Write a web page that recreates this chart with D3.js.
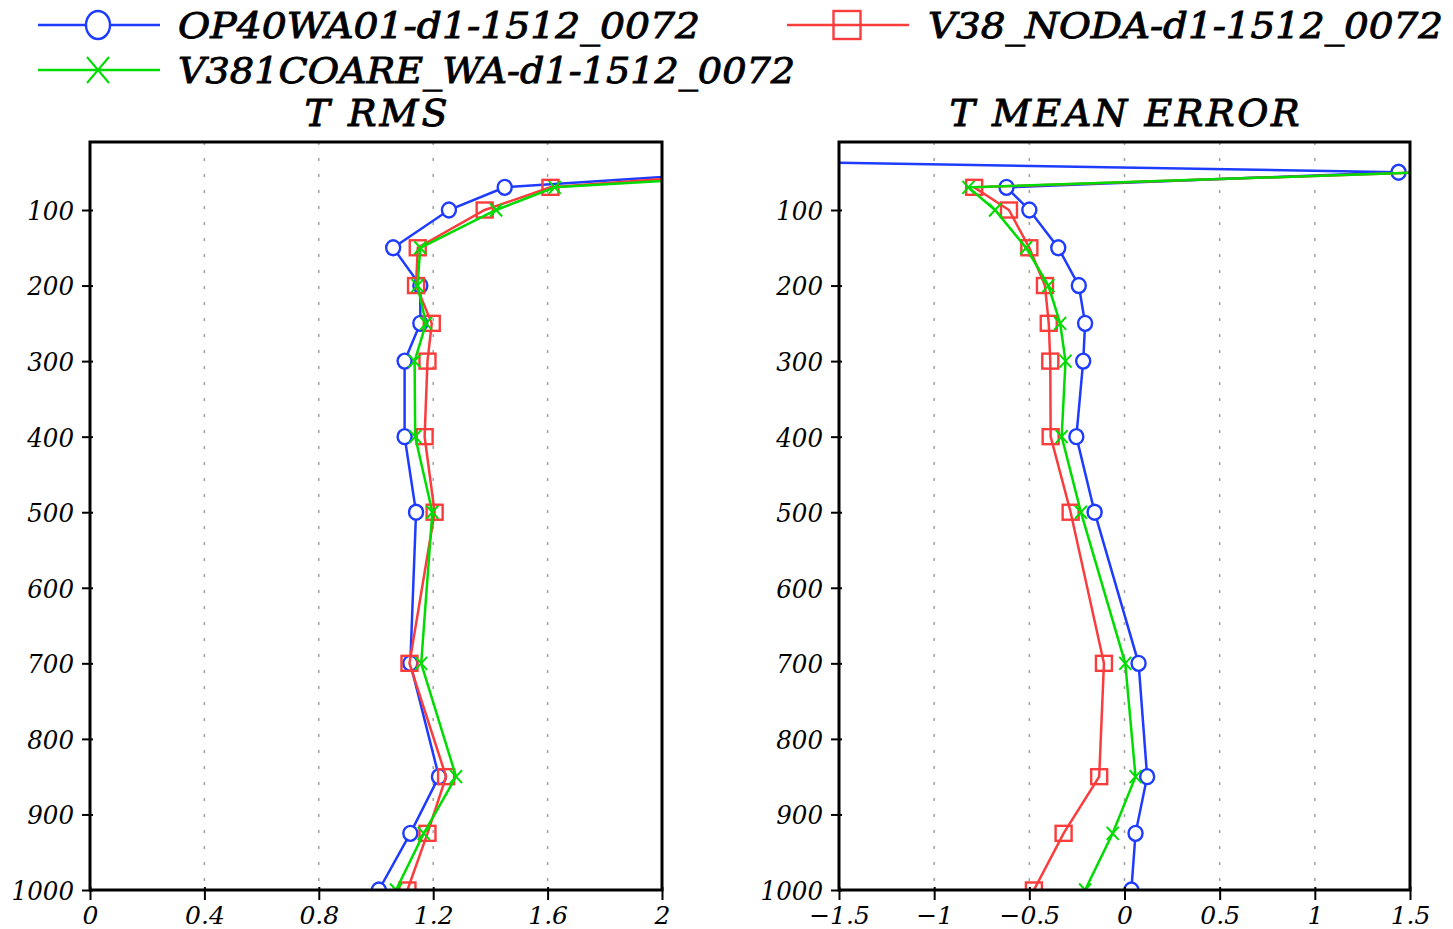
<!DOCTYPE html>
<html>
<head>
<meta charset="utf-8">
<script src="https://cdn.jsdelivr.net/npm/d3@7"></script>
<style>
  html, body { margin: 0; padding: 0; background: #fff; }
  svg { display: block; }
  text { font-family: "DejaVu Serif", serif; font-style: italic; fill: #000; }
</style>
</head>
<body>
<div id="art"></div>
<script>
// pressure levels (hPa); 30 hPa only exists for the OP40 run
const levels = [30, 50, 70, 100, 150, 200, 250, 300, 400, 500, 700, 850, 925, 1000];

const rmsOP40  = [3.4, 2.25, 1.45, 1.255, 1.06, 1.155, 1.155, 1.10, 1.10, 1.14, 1.12, 1.22, 1.12, 1.01];
const rmsNODA  = [null, 2.31, 1.61, 1.38, 1.146, 1.14, 1.195, 1.18, 1.17, 1.205, 1.117, 1.245, 1.18, 1.11];
const rmsCOARE = [null, 2.51, 1.625, 1.42, 1.155, 1.145, 1.175, 1.135, 1.137, 1.197, 1.158, 1.28, 1.167, 1.07];

const meOP40  = [-3.3, 1.44, -0.62, -0.50, -0.348, -0.24, -0.207, -0.217, -0.253, -0.157, 0.074, 0.119, 0.058, 0.036];
const meNODA  = [null, 1.58, -0.79, -0.607, -0.50, -0.418, -0.398, -0.39, -0.388, -0.283, -0.108, -0.133, -0.32, -0.476];
const meCOARE = [null, 1.60, -0.82, -0.68, -0.517, -0.40, -0.338, -0.31, -0.33, -0.229, 0.004, 0.058, -0.062, -0.207];

const seriesNames = ["OP40WA01-d1-1512_0072", "V38_NODA-d1-1512_0072", "V381COARE_WA-d1-1512_0072"];
const seriesColours = ["#1e3cff", "#fa3c3c", "#00dc00"];
const seriesMarks = ["circle", "square", "cross"];

const yTicks = [100, 200, 300, 400, 500, 600, 700, 800, 900, 1000];
const rmsTicks = [0, 0.4, 0.8, 1.2, 1.6, 2];
const meTicks = [-1.5, -1, -0.5, 0, 0.5, 1, 1.5];

const config = {
  width: 1453,
  height: 929,
  top: 142,
  bottom: 890
};

function fmt(v) {
  return String(v).replace("-", "\u2212");
}

function drawMark(g, type, x, y, colour, s) {
  if (type === "circle") {
    g.append("ellipse").attr("cx", x).attr("cy", y).attr("rx", s.r).attr("ry", s.ry || s.r)
      .attr("fill", "#fff").attr("stroke", colour).attr("stroke-width", 2.4);
  } else if (type === "square") {
    g.append("rect").attr("x", x - s.sq / 2).attr("y", y - (s.sqh || s.sq) / 2)
      .attr("width", s.sq).attr("height", s.sqh || s.sq)
      .attr("fill", "none").attr("stroke", colour).attr("stroke-width", 2.4);
  } else {
    const a = s.cx, b = s.cy || s.cx;
    g.append("path").attr("d", `M${x - a},${y - b}L${x + a},${y + b}M${x - a},${y + b}L${x + a},${y - b}`)
      .attr("stroke", colour).attr("stroke-width", 2).attr("fill", "none");
  }
}

function panel(svg, id, x0, x1, domain, ticks, title, titleLen, values) {
  const x = d3.scaleLinear().domain(domain).range([x0, x1]);
  const y = d3.scaleLinear().domain([10, 1000]).range([config.top, config.bottom]);

  svg.append("clipPath").attr("id", id)
    .append("rect").attr("x", x0).attr("y", config.top)
    .attr("width", x1 - x0).attr("height", config.bottom - config.top);

  // dotted grid
  svg.append("g").selectAll("line")
    .data(ticks.slice(1, -1))
    .enter().append("line")
    .attr("x1", d => x(d)).attr("x2", d => x(d))
    .attr("y1", config.top).attr("y2", config.bottom)
    .attr("stroke", "#a0a0a0").attr("stroke-width", 1.5)
    .attr("stroke-dasharray", "3,13");

  const plot = svg.append("g").attr("clip-path", `url(#${id})`);

  values.forEach((vals, k) => {
    const pts = levels.map((p, i) => ({ p: p, v: vals[i] })).filter(d => d.v !== null);
    const line = d3.line().x(d => x(d.v)).y(d => y(d.p));
    plot.append("path").datum(pts)
      .attr("d", line)
      .attr("fill", "none")
      .attr("stroke", seriesColours[k])
      .attr("stroke-width", 2.5);
    const mg = plot.append("g");
    pts.forEach(d => drawMark(mg, seriesMarks[k], x(d.v), y(d.p), seriesColours[k], { r: 7, ry: 7.5, sq: 16, sqh: 15, cx: 6, cy: 6.5 }));
  });

  // frame
  svg.append("rect")
    .attr("x", x0).attr("y", config.top)
    .attr("width", x1 - x0).attr("height", config.bottom - config.top)
    .attr("fill", "none").attr("stroke", "#000").attr("stroke-width", 3);

  const yAxis = svg.append("g")
    .attr("transform", `translate(${x0},0)`)
    .call(d3.axisLeft(y).tickValues(yTicks).tickSize(8).tickPadding(8).tickFormat(d => String(d)));
  yAxis.select(".domain").remove();
  yAxis.selectAll("line").attr("stroke", "#000").attr("stroke-width", 2).attr("x2", -8).attr("x1", 3);
  yAxis.selectAll("text")
    .attr("font-size", 26).attr("font-family", "DejaVu Serif").attr("font-style", "italic")
    .attr("dy", "0.36em")
    .attr("textLength", d => String(d).length * 15.6)
    .attr("lengthAdjust", "spacingAndGlyphs");

  const xAxis = svg.append("g")
    .attr("transform", `translate(0,${config.bottom})`)
    .call(d3.axisBottom(x).tickValues(ticks).tickSize(10).tickPadding(6).tickFormat(fmt));
  xAxis.select(".domain").remove();
  xAxis.selectAll("line").attr("stroke", "#000").attr("stroke-width", 2).attr("y1", -3);
  xAxis.selectAll("text")
    .attr("font-size", 25).attr("font-family", "DejaVu Serif").attr("font-style", "italic");

  svg.append("text")
    .attr("x", (x0 + x1) / 2).attr("y", 126)
    .attr("text-anchor", "middle")
    .attr("font-size", 38)
    .attr("stroke", "#000").attr("stroke-width", 0.9)
    .attr("textLength", titleLen).attr("lengthAdjust", "spacing")
    .text(title);
}

function legend(svg) {
  const items = [
    { k: 0, lx: 38, y: 25, tx: 178, len: 522 },
    { k: 1, lx: 787, y: 25, tx: 928, len: 515 },
    { k: 2, lx: 38, y: 70, tx: 178, len: 617 }
  ];
  items.forEach(it => {
    const g = svg.append("g");
    g.append("line").attr("x1", it.lx).attr("x2", it.lx + 122)
      .attr("y1", it.y).attr("y2", it.y)
      .attr("stroke", seriesColours[it.k]).attr("stroke-width", 2.6);
    drawMark(g, seriesMarks[it.k], it.lx + 60, it.y, seriesColours[it.k], { r: 12, ry: 14, sq: 27, sqh: 28, cx: 11, cy: 13 });
    g.append("text")
      .attr("x", it.tx).attr("y", it.y + 13)
      .attr("font-size", 35)
      .attr("stroke", "#000").attr("stroke-width", 0.9)
      .attr("textLength", it.len).attr("lengthAdjust", "spacingAndGlyphs")
      .text(seriesNames[it.k]);
  });
}

function art() {
  const svg = d3.select("#art").append("svg")
    .attr("width", config.width).attr("height", config.height)
    .attr("viewBox", `0 0 ${config.width} ${config.height}`);

  legend(svg);
  panel(svg, "clipRms", 90, 662, [0, 2], rmsTicks, "T RMS", 143, [rmsOP40, rmsNODA, rmsCOARE]);
  panel(svg, "clipMe", 839, 1410, [-1.5, 1.5], meTicks, "T MEAN ERROR", 350, [meOP40, meNODA, meCOARE]);
}

window.onload = function () {
  art();
};
</script>
</body>
</html>
